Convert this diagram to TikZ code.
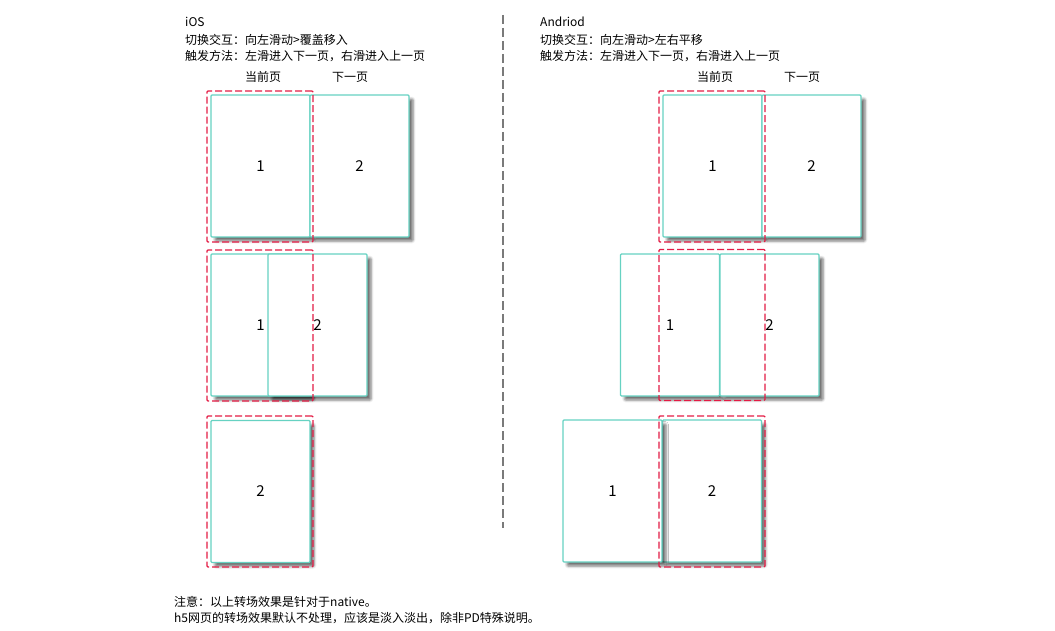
\documentclass[tikz,border=0pt]{standalone}
\usepackage{fontspec}
\setmainfont{Noto Sans CJK SC}
\usetikzlibrary{shadows.blur}
\definecolor{pageline}{HTML}{66D2C2}
\definecolor{viewline}{HTML}{E31B44}
\definecolor{splitline}{HTML}{7A7A7A}
\tikzset{
    page/.style={draw=pageline, line width=1.2pt, fill=white, rounded corners=1pt,
        minimum width=99pt, minimum height=142pt, inner sep=0pt,
        font=\fontsize{15}{15}\selectfont,
        blur shadow={shadow xshift=4pt, shadow yshift=-4pt,
            shadow blur radius=2.5pt, shadow opacity=55}},
    view/.style={draw=viewline, line width=1.2pt, dash pattern=on 7pt off 3pt,
        rounded corners=1pt, minimum width=106pt, minimum height=151pt,
        inner sep=0pt},
    note/.style={anchor=west, inner sep=0pt, font=\fontsize{12}{14}\selectfont},
    caption/.style={inner sep=0pt, font=\fontsize{12}{14}\selectfont}
}
\begin{document}
\begin{tikzpicture}[x=1pt, y=-1pt]
    \useasboundingbox (0, 0) rectangle (1055, 631);

    \draw[splitline, line width=1.2pt, dash pattern=on 9pt off 4pt]
        (503, 15) -- (503, 528);

    % iOS
    \node[note] (ios-title) at (185, 22) {iOS};
    \node[note] (ios-mode) at (185, 40) {切换交互：向左滑动>覆盖移入};
    \node[note] (ios-way) at (185, 56) {触发方法：左滑进入下一页，右滑进入上一页};
    \node[caption] (ios-cur) at (263, 77) {当前页};
    \node[caption] (ios-next) at (350, 77) {下一页};

    \node[page] (ios-a1) at (260.5, 166) {1};
    \node[page] (ios-a2) at (359.5, 166) {2};
    \node[view] (ios-fa) at (260, 166.5) {};

    \node[page] (ios-b1) at (260.5, 325) {1};
    \node[page] (ios-b2) at (317.5, 325) {2};
    \node[view] (ios-fb) at (260, 325.5) {};

    \node[page] (ios-c2) at (260.5, 491.5) {2};
    \node[view] (ios-fc) at (260, 491.5) {};

    % Andriod
    \node[note] (and-title) at (540, 22) {Andriod};
    \node[note] (and-mode) at (540, 40) {切换交互：向左滑动>左右平移};
    \node[note] (and-way) at (540, 56) {触发方法：左滑进入下一页，右滑进入上一页};
    \node[caption] (and-cur) at (715, 77) {当前页};
    \node[caption] (and-next) at (802, 77) {下一页};

    \node[page] (and-a1) at (712.5, 166) {1};
    \node[page] (and-a2) at (811.5, 166) {2};
    \node[view] (and-fa) at (712, 166.5) {};

    \node[page] (and-b1) at (670, 325) {1};
    \node[page] (and-b2) at (769.5, 325) {2};
    \node[view] (and-fb) at (712, 325) {};

    \node[page] (and-c2) at (712, 491) {2};
    \node[page] (and-c1) at (612.5, 491) {1};
    \node[view] (and-fc) at (712, 491.5) {};

    % footer
    \node[note] (foot-a) at (174, 602) {注意：以上转场效果是针对于native。};
    \node[note] (foot-b) at (174, 618)
        {h5网页的转场效果默认不处理，应该是淡入淡出，除非PD特殊说明。};
\end{tikzpicture}
\end{document}
